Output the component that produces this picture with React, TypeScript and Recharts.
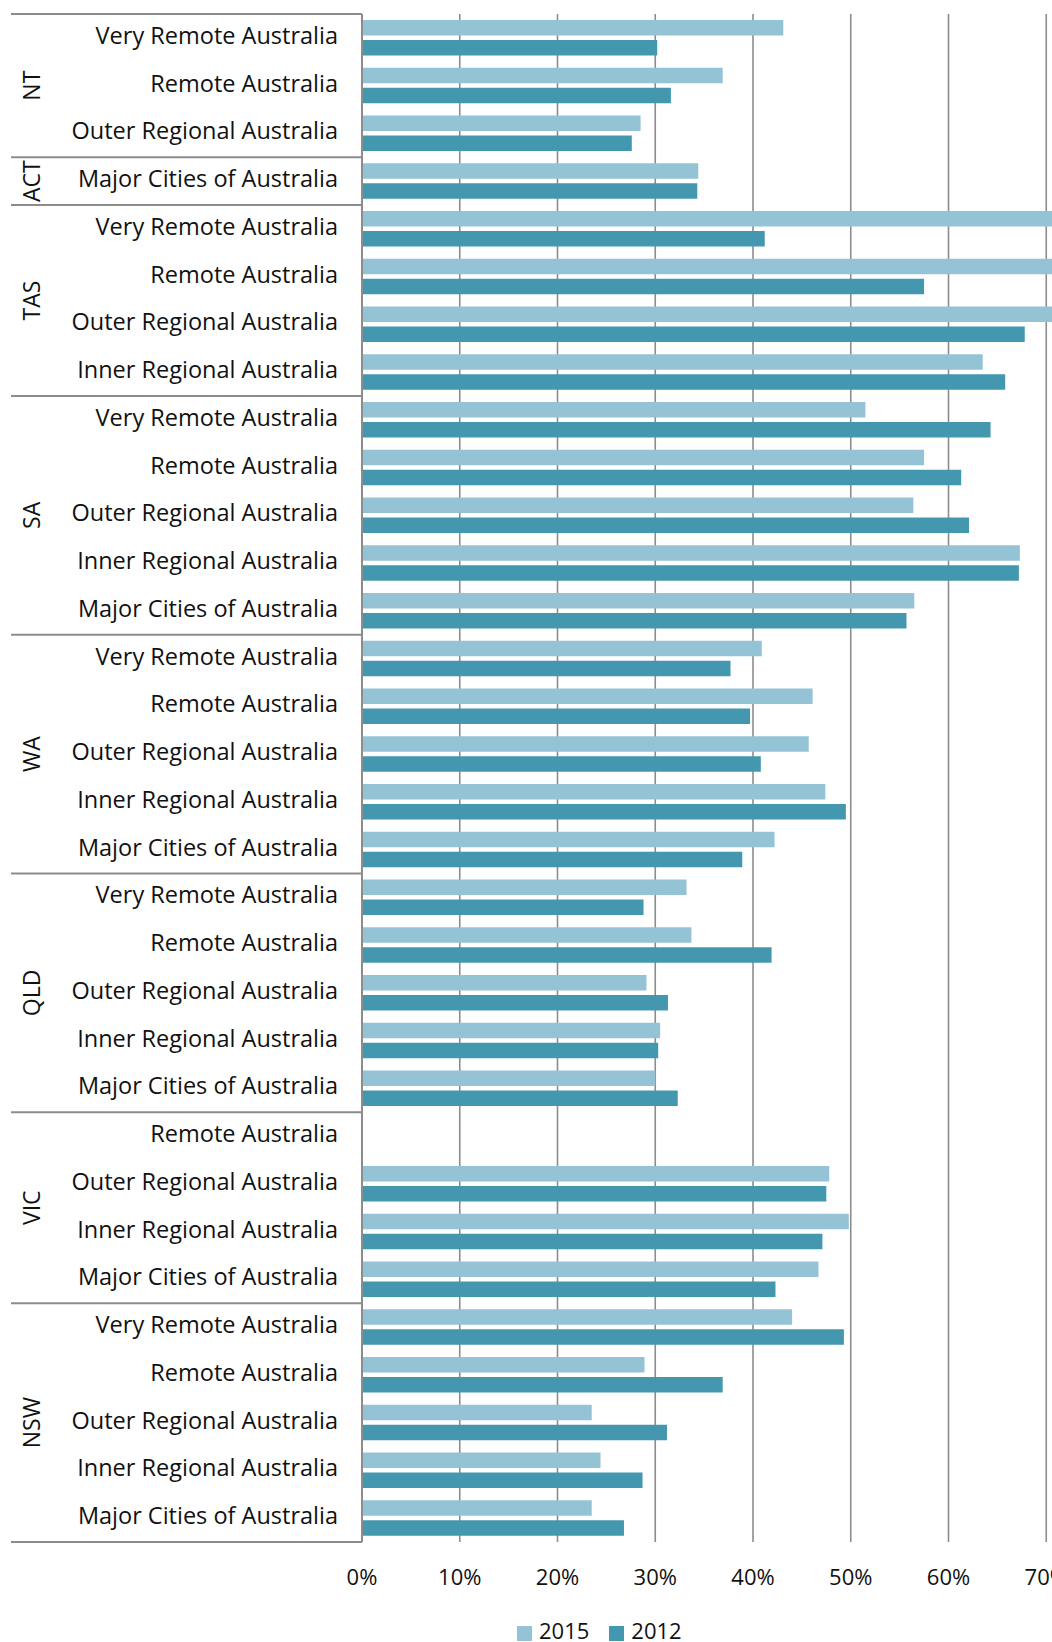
import React from 'react';
import { BarChart, Bar, XAxis, YAxis, CartesianGrid, Legend } from 'recharts';

// rows, top to bottom
const states = [
    'NT', 'NT', 'NT',
    'ACT',
    'TAS', 'TAS', 'TAS', 'TAS',
    'SA', 'SA', 'SA', 'SA', 'SA',
    'WA', 'WA', 'WA', 'WA', 'WA',
    'QLD', 'QLD', 'QLD', 'QLD', 'QLD',
    'VIC', 'VIC', 'VIC', 'VIC',
    'NSW', 'NSW', 'NSW', 'NSW', 'NSW',
];

const regions = [
    'Very Remote Australia', 'Remote Australia', 'Outer Regional Australia',
    'Major Cities of Australia',
    'Very Remote Australia', 'Remote Australia', 'Outer Regional Australia', 'Inner Regional Australia',
    'Very Remote Australia', 'Remote Australia', 'Outer Regional Australia', 'Inner Regional Australia', 'Major Cities of Australia',
    'Very Remote Australia', 'Remote Australia', 'Outer Regional Australia', 'Inner Regional Australia', 'Major Cities of Australia',
    'Very Remote Australia', 'Remote Australia', 'Outer Regional Australia', 'Inner Regional Australia', 'Major Cities of Australia',
    'Remote Australia', 'Outer Regional Australia', 'Inner Regional Australia', 'Major Cities of Australia',
    'Very Remote Australia', 'Remote Australia', 'Outer Regional Australia', 'Inner Regional Australia', 'Major Cities of Australia',
];

// percentages (TAS 2015 values run past the cropped edge)
const share2015 = [
    43.1, 36.9, 28.5,
    34.4,
    76, 78, 74, 63.5,
    51.5, 57.5, 56.4, 67.3, 56.5,
    40.9, 46.1, 45.7, 47.4, 42.2,
    33.2, 33.7, 29.1, 30.5, 30.0,
    null, 47.8, 49.8, 46.7,
    44.0, 28.9, 23.5, 24.4, 23.5,
];

const share2012 = [
    30.2, 31.6, 27.6,
    34.3,
    41.2, 57.5, 67.8, 65.8,
    64.3, 61.3, 62.1, 67.2, 55.7,
    37.7, 39.7, 40.8, 49.5, 38.9,
    28.8, 41.9, 31.3, 30.3, 32.3,
    null, 47.5, 47.1, 42.3,
    49.3, 36.9, 31.2, 28.7, 26.8,
];

const seriesNames = ['2015', '2012'];
const xTicks = [0, 10, 20, 30, 40, 50, 60, 70, 80];

const FONT = '"Open Sans", sans-serif';
const TEXT = '#111';
const LINE = '#8c8c8c';
const LIGHT = '#93c3d4';
const DARK = '#4398b0';

const CHART_W = 1154;
const CHART_H = 1700;
const PLOT_TOP = 14;
const PLOT_BOTTOM = 1542;
const AXIS_X = 362;
const X_AXIS_H = 60;
const BAND = (PLOT_BOTTOM - PLOT_TOP) / regions.length;

const data = regions.map((region, i) => ({
    key: `${states[i]}|${region}`,
    state: states[i],
    region,
    y2015: share2015[i],
    y2012: share2012[i],
}));

const RegionTick = ({ y, payload }: any) => {
    const i = data.findIndex(d => d.key === payload.value);
    if (i < 0) return null;
    const row = data[i];
    const first = i === 0 || states[i - 1] !== states[i];
    const last = i === data.length - 1;
    let count = 0;
    if (first) {
        let j = i;
        while (j < states.length && states[j] === states[i]) j++;
        count = j - i;
    }
    const top = y - BAND / 2;
    const mid = top + (count * BAND) / 2;

    return (
        <g>
            <text x={AXIS_X - 24} y={y + 6} textAnchor="end" fontFamily={FONT} fontSize={23.5} fill={TEXT}>
                {row.region}
            </text>
            {first && <line x1={11} x2={AXIS_X} y1={top} y2={top} stroke={LINE} strokeWidth={1.8} />}
            {first && (
                <text transform={`translate(40, ${mid}) rotate(-90)`} textAnchor="middle" fontFamily={FONT} fontSize={23} fill={TEXT}>
                    {row.state}
                </text>
            )}
            {last && <line x1={11} x2={AXIS_X} y1={y + BAND / 2} y2={y + BAND / 2} stroke={LINE} strokeWidth={1.8} />}
        </g>
    );
};

const PercentTick = ({ x, payload }: any) => (
    <text x={x} y={PLOT_BOTTOM + 43} textAnchor="middle" fontFamily={FONT} fontSize={22} fill={TEXT}>
        {`${payload.value}%`}
    </text>
);

const renderLegend = ({ payload }: any) => {
    const items = seriesNames
        .map(name => (payload || []).find((p: any) => p.value === name))
        .filter(Boolean);
    return (
        <div style={{ display: 'flex', alignItems: 'center', fontFamily: FONT, fontSize: 22, color: TEXT, lineHeight: '30px' }}>
            {items.map((entry: any) => (
                <div key={entry.value} style={{ display: 'flex', alignItems: 'center', marginRight: 20 }}>
                    <span style={{ display: 'inline-block', width: 15, height: 15, background: entry.color, marginRight: 7, marginTop: 6 }} />
                    <span>{entry.value}</span>
                </div>
            ))}
        </div>
    );
};

const App = () => {
    return (
        <div style={{ position: 'absolute', left: 0, top: 0, width: 1052, height: 1642, overflow: 'hidden', background: '#fff' }}>
            <BarChart
                width={CHART_W}
                height={CHART_H}
                data={data}
                layout="vertical"
                margin={{ top: PLOT_TOP, right: 10, left: 0, bottom: CHART_H - PLOT_BOTTOM - X_AXIS_H }}
                barSize={15.5}
                barGap={4.5}
            >
                <CartesianGrid horizontal={false} stroke={LINE} strokeWidth={1.6} />
                <XAxis
                    type="number"
                    domain={[0, 80]}
                    ticks={xTicks}
                    allowDataOverflow
                    axisLine={false}
                    tickLine={false}
                    height={X_AXIS_H}
                    tick={<PercentTick />}
                />
                <YAxis
                    type="category"
                    dataKey="key"
                    width={AXIS_X}
                    interval={0}
                    tickLine={false}
                    axisLine={{ stroke: LINE, strokeWidth: 2 }}
                    tick={<RegionTick />}
                />
                <Legend
                    layout="horizontal"
                    verticalAlign="middle"
                    align="center"
                    wrapperStyle={{ top: 1615, left: 517, width: 'auto' }}
                    content={renderLegend}
                />
                <Bar dataKey="y2015" name="2015" fill={LIGHT} isAnimationActive={false} />
                <Bar dataKey="y2012" name="2012" fill={DARK} isAnimationActive={false} />
            </BarChart>
        </div>
    );
};

export default App;
